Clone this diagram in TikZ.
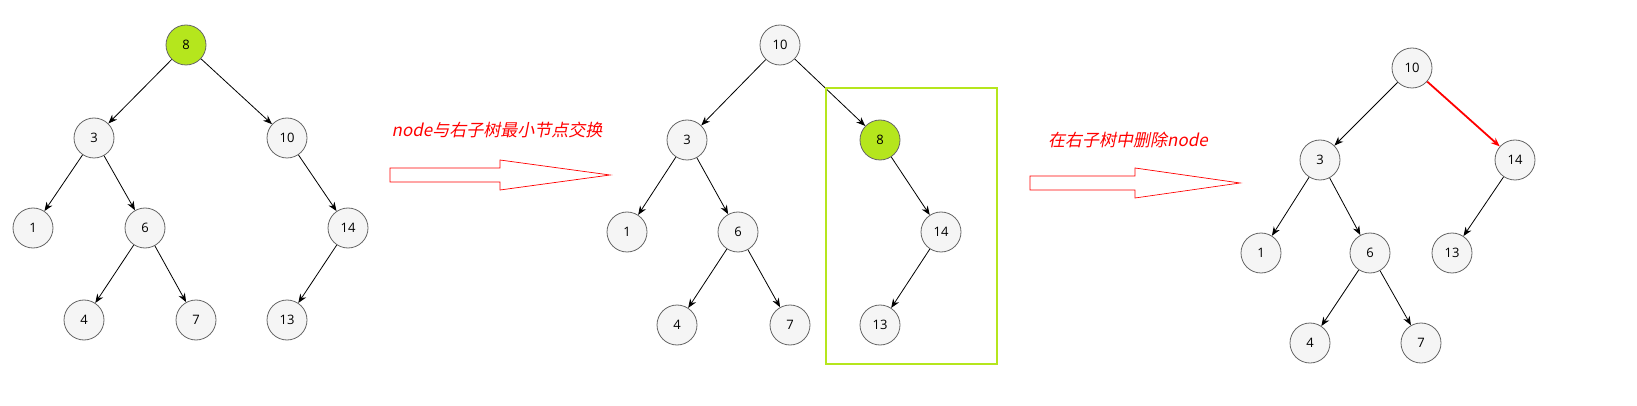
\documentclass[tikz,border=0pt]{standalone}
\usepackage{fontspec}
\setmainfont{Open Sans}
\newfontfamily\cjk[FakeSlant=0.2]{Noto Sans CJK SC}
\usetikzlibrary{arrows.meta}
\definecolor{lime}{HTML}{B5E61D}
\tikzset{
  tn/.style={circle,draw=black!60,fill=black!4,minimum size=20pt,inner sep=0pt,line width=0.4pt,font=\fontsize{6.5}{6.5}\selectfont},
  gn/.style={tn,fill=lime},
  ed/.style={-{Stealth[length=4.5pt,width=3.5pt]},black,line width=0.4pt},
  lab/.style={text=red,font=\cjk\fontsize{8.5}{8.5}\selectfont},
  hol/.style={draw=red,fill=white,line width=0.35pt}
}
\begin{document}
\begin{tikzpicture}[x=0.5pt,y=-0.5pt]
\useasboundingbox (0,0) rectangle (1637,406);
% tree 1
\node[gn] (a8) at (186,45) {8};
\node[tn] (a3) at (94,138) {3};
\node[tn] (a10) at (287,138) {10};
\node[tn] (a1) at (33,228) {1};
\node[tn] (a6) at (145,228) {6};
\node[tn] (a14) at (348,228) {14};
\node[tn] (a4) at (84,320) {4};
\node[tn] (a7) at (196,320) {7};
\node[tn] (a13) at (287,320) {13};
\foreach \p/\c in {a8/a3,a8/a10,a3/a1,a3/a6,a6/a4,a6/a7,a10/a14,a14/a13} \draw[ed] (\p)--(\c);
% arrow 1
\node[lab] (t1) at (497,130) {node与右子树最小节点交换};
\draw[hol] (390,168) -- (500,168) -- (500,160) -- (610,175) -- (500,190) -- (500,182) -- (390,182) -- cycle;
% tree 2
\node[tn] (b10) at (780,45) {10};
\node[tn] (b3) at (687,140) {3};
\node[gn] (b8) at (880,140) {8};
\node[tn] (b1) at (627,232) {1};
\node[tn] (b6) at (738,232) {6};
\node[tn] (b14) at (941,232) {14};
\node[tn] (b4) at (677,325) {4};
\node[tn] (b7) at (790,325) {7};
\node[tn] (b13) at (880,325) {13};
\foreach \p/\c in {b10/b3,b10/b8,b3/b1,b3/b6,b6/b4,b6/b7,b8/b14,b14/b13} \draw[ed] (\p)--(\c);
\draw[lime,line width=1.25pt] (826,88) rectangle (997,364);
% arrow 2
\node[lab] (t2) at (1128,140) {在右子树中删除node};
\draw[hol] (1030,176) -- (1135,176) -- (1135,168) -- (1240,183) -- (1135,198) -- (1135,190) -- (1030,190) -- cycle;
% tree 3
\node[tn] (c10) at (1412,68) {10};
\node[tn] (c3) at (1320,160) {3};
\node[tn] (c14) at (1515,160) {14};
\node[tn] (c1) at (1261,253) {1};
\node[tn] (c6) at (1370,253) {6};
\node[tn] (c13) at (1452,253) {13};
\node[tn] (c4) at (1310,343) {4};
\node[tn] (c7) at (1421,343) {7};
\foreach \p/\c in {c10/c3,c3/c1,c3/c6,c6/c4,c6/c7,c14/c13} \draw[ed] (\p)--(\c);
\draw[ed,red,line width=0.9pt] (c10)--(c14);
\end{tikzpicture}
\end{document}
